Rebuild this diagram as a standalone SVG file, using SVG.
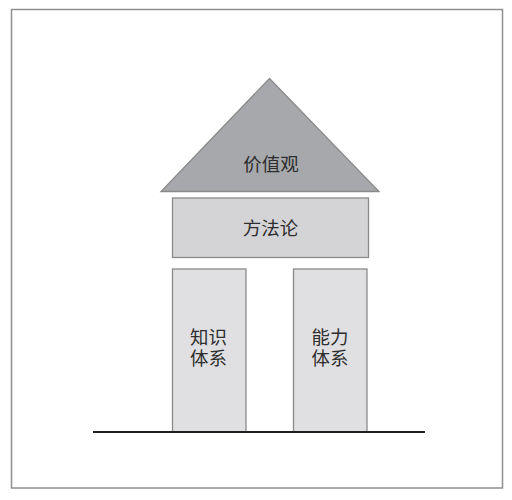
<svg xmlns="http://www.w3.org/2000/svg" width="512" height="500" viewBox="0 0 512 500">
<style>
.t{font-family:"Liberation Sans","Noto Sans CJK SC",sans-serif;font-size:18.5px;fill:#2e2e2e;text-anchor:middle}
.box{stroke:#8a8a8a;stroke-width:1.3}
</style>
<rect x="0" y="0" width="512" height="500" fill="#ffffff"/>
<rect x="11.5" y="9.5" width="491" height="478.5" fill="none" stroke="#8f8f8f" stroke-width="1.5"/>
<g id="values">
<polygon class="box" points="269.5,78.5 161,191.5 379,191.5" fill="#a7a8ab"/>
<text class="t" x="271" y="170.5">价值观</text>
</g>
<g id="method">
<rect class="box" x="172.5" y="198" width="196" height="59.5" fill="#d4d4d6"/>
<text class="t" x="270.5" y="235">方法论</text>
</g>
<g id="knowledge">
<rect class="box" x="172.5" y="269" width="73.5" height="163" fill="#e0e0e2"/>
<text class="t" x="208.5" y="343.5">知识</text>
<text class="t" x="208.5" y="365">体系</text>
</g>
<g id="ability">
<rect class="box" x="293.5" y="269" width="73.5" height="163" fill="#e0e0e2"/>
<text class="t" x="330" y="343.5">能力</text>
<text class="t" x="330" y="365">体系</text>
</g>
<g id="connectors">
<line x1="93" y1="432" x2="425" y2="432" stroke="#1f1f1f" stroke-width="2.2"/>
</g>
</svg>
